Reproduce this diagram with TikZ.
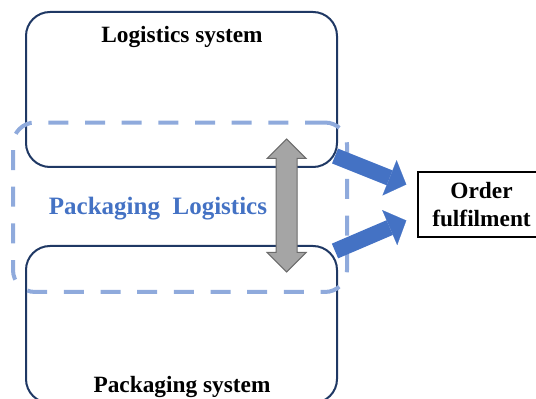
\documentclass[tikz,border=0pt]{standalone}
\usepackage{fontspec}
\setmainfont{Liberation Serif}
\usetikzlibrary{shapes.arrows,arrows.meta,calc}

\definecolor{navy}{HTML}{1F3864}
\definecolor{dashblue}{HTML}{8FAADC}
\definecolor{arrowblue}{HTML}{4472C4}
\definecolor{arrowgray}{HTML}{A5A5A5}
\definecolor{edgegray}{HTML}{6B6B6B}

\begin{document}
\begin{tikzpicture}[x=0.75pt,y=-0.75pt,
  sysbox/.style={draw=navy,line width=1.5pt,rounded corners=18pt,
    minimum width=233.25pt,inner sep=0pt},
  systext/.style={anchor=base,font=\fontsize{17.5}{21}\selectfont\bfseries},
  flow/.style={draw=arrowblue,line width=12pt,
    -{Triangle[width=28.5pt,length=13.5pt,line width=0.1pt]}}]
\useasboundingbox (0,0) rectangle (536,399);

% SYSTEMS =====================================================================
  \node[sysbox,minimum height=116.25pt] (logsys) at (181.5,89.5) {}; % Logistics
  \node[sysbox,minimum height=117.75pt] (packsys) at (181.5,324.5) {}; % Packaging

  \node[systext] (logtitle) at (182,43) {Logistics system};
  \node[systext] (packtitle) at (182,392) {Packaging system};

% PACKAGING LOGISTICS =========================================================
  \node[draw=dashblue,line width=3pt,dash pattern=on 15pt off 12.5pt,
    rounded corners=16.5pt,minimum width=250.5pt,minimum height=127.1pt,
    inner sep=0pt] (packlog) at (180,207.25) {};
  \node[anchor=base,text=arrowblue,font=\fontsize{18.75}{22}\selectfont\bfseries]
    (packlogtitle) at (158,215) {Packaging\ \ Logistics};

% ORDER =======================================================================
  \node[draw,line width=1.1pt,minimum width=95.25pt,minimum height=48.75pt,
    inner sep=0pt,align=center,font=\fontsize{17.5}{21}\selectfont\bfseries]
    (order) at (481.5,204.5) {Order\\fulfilment};

% ARROWS ======================================================================
  \node[double arrow,draw=edgegray,fill=arrowgray,line width=0.75pt,rotate=90,
    minimum height=99.75pt,inner xsep=0pt,inner ysep=7.5pt,
    double arrow head extend=6.75pt,double arrow tip angle=90] (swap)
    at (286.7,205.5) {};

  \coordinate (logout) at ($(logsys.south east)+(-3,-12)$);
  \coordinate (packout) at ($(packsys.north east)+(-3,6)$);
  \coordinate (ordertop) at ($(order.west)+(-11,-20)$);
  \coordinate (orderbot) at ($(order.west)+(-11,16)$);

  \draw[flow] (logout) -- (ordertop);
  \draw[flow] (packout) -- (orderbot);

\end{tikzpicture}
\end{document}
